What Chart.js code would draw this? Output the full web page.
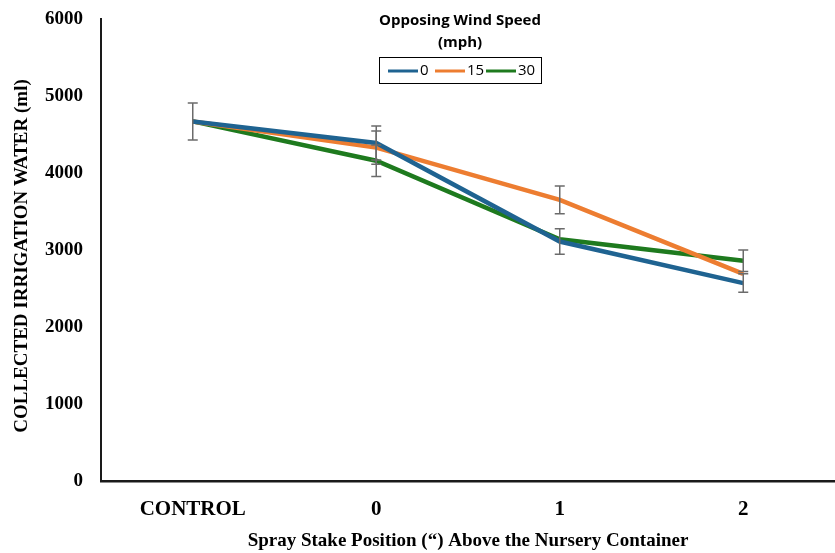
<!DOCTYPE html>
<html>
<head>
<meta charset="utf-8">
<script src="https://cdn.jsdelivr.net/npm/chart.js@4/dist/chart.umd.min.js"></script>
<style>
  html, body { margin: 0; padding: 0; background: #fff; }
  #wrap { width: 835px; height: 553px; }
</style>
</head>
<body>
<div id="wrap"><canvas id="c"></canvas></div>
<script>
// Spray stake positions
const categories = ['CONTROL', '0', '1', '2'];

// Collected irrigation water (ml) by opposing wind speed
const speed0  = [4670, 4390, 3110, 2570];
const speed15 = [4670, 4330, 3650, 2690];
const speed30 = [4670, 4160, 3140, 2860];

// Standard error for each point
const err0  = [240, 220, 165, 120];
const err15 = [0, 215, 180, 0];
const err30 = [0, 205, 0, 140];

const seriesLabels = ['0', '15', '30'];
const yTicks = [0, 1000, 2000, 3000, 4000, 5000, 6000];
const yTitle = 'COLLECTED IRRIGATION WATER (ml)';

const serif = "'Liberation Serif', 'Times New Roman', serif";
const sans = "'Open Sans', sans-serif";

// Draws vertical error bars with caps at each point
const errorBars = {
  id: 'errorBars',
  afterDatasetsDraw(chart) {
    const { ctx } = chart;
    const y = chart.scales.y;
    ctx.save();
    ctx.strokeStyle = '#6b6b6b';
    ctx.lineWidth = 1.5;
    chart.data.datasets.forEach((ds, i) => {
      const meta = chart.getDatasetMeta(i);
      ds.errors.forEach((e, j) => {
        if (!e) return;
        const px = meta.data[j].x;
        const top = y.getPixelForValue(ds.data[j] + e);
        const bot = y.getPixelForValue(ds.data[j] - e);
        ctx.beginPath();
        ctx.moveTo(px, top); ctx.lineTo(px, bot);
        ctx.moveTo(px - 5, top); ctx.lineTo(px + 5, top);
        ctx.moveTo(px - 5, bot); ctx.lineTo(px + 5, bot);
        ctx.stroke();
      });
    });
    ctx.restore();
  }
};

// Rotated value-axis title
const sideTitle = {
  id: 'sideTitle',
  afterDraw(chart) {
    const { ctx } = chart;
    ctx.save();
    ctx.translate(22, 256);
    ctx.rotate(-Math.PI / 2);
    ctx.fillStyle = '#000';
    ctx.textAlign = 'center';
    ctx.textBaseline = 'middle';
    ctx.font = "bold 19px " + serif;
    ctx.fillText(yTitle, 0, 0);
    ctx.restore();
  }
};

// Legend with title and framed item row inside the plot
const boxedLegend = {
  id: 'boxedLegend',
  afterDraw(chart) {
    const { ctx } = chart;
    ctx.save();
    ctx.fillStyle = '#000';
    ctx.textAlign = 'center';
    ctx.textBaseline = 'middle';
    ctx.font = "bold 15px " + sans;
    ctx.fillText('Opposing Wind Speed', 460, 21);
    ctx.fillText('(mph)', 460, 43);

    const bx = 379, by = 57, bw = 162, bh = 26;
    ctx.strokeStyle = '#000';
    ctx.lineWidth = 1;
    ctx.strokeRect(bx + 0.5, by + 0.5, bw, bh);

    ctx.font = "15px " + sans;
    ctx.textAlign = 'left';
    const starts = [388, 435, 486];
    chart.data.datasets.forEach((ds, i) => {
      const x0 = starts[i];
      const ly = by + bh / 2 + 1;
      ctx.strokeStyle = ds.borderColor;
      ctx.lineWidth = 3;
      ctx.beginPath();
      ctx.moveTo(x0, ly); ctx.lineTo(x0 + 30, ly);
      ctx.stroke();
      ctx.fillText(ds.label, x0 + 32, ly);
    });
    ctx.restore();
  }
};

const mk = (label, data, errors, color) => ({
  label, data, errors,
  borderColor: color,
  backgroundColor: color,
  borderWidth: 4.5,
  pointRadius: 0,
  tension: 0,
  fill: false
});

new Chart(document.getElementById('c'), {
  type: 'line',
  data: {
    labels: categories,
    datasets: [
      mk(seriesLabels[0], speed0, err0, '#1f6391'),
      mk(seriesLabels[1], speed15, err15, '#ed7d31'),
      mk(seriesLabels[2], speed30, err30, '#1e7a1e')
    ]
  },
  options: {
    responsive: true,
    maintainAspectRatio: false,
    animation: false,
    layout: { padding: { top: 19, right: 0, left: 0, bottom: 0 } },
    plugins: { legend: { display: false }, tooltip: { enabled: false } },
    scales: {
      x: {
        offset: true,
        grid: { display: false, drawTicks: false },
        border: { display: true, color: '#1a1a1a', width: 2.5 },
        ticks: { color: '#000', font: { family: serif, size: 21, weight: 'bold' }, padding: 16 },
        title: {
          display: true,
          text: 'Spray Stake Position (\u201C) Above the Nursery Container',
          color: '#000',
          font: { family: serif, size: 19, weight: 'bold' },
          padding: { top: 0, bottom: 1 }
        },
        afterFit(s) { s.height = 72; s.paddingLeft = 0; s.paddingRight = 0; }
      },
      y: {
        min: 0, max: 6000,
        afterBuildTicks(s) { s.ticks = yTicks.map(v => ({ value: v })); },
        grid: { display: false, drawTicks: false },
        border: { display: true, color: '#1a1a1a', width: 2 },
        ticks: {
          color: '#000',
          font: { family: serif, size: 19, weight: 'bold' },
          padding: 18,
          callback: v => String(v)
        },
        title: { display: false },
        afterFit(s) { s.width = 101; s.paddingTop = 0; s.paddingBottom = 0; }
      }
    }
  },
  plugins: [errorBars, boxedLegend, sideTitle]
});
</script>
</body>
</html>
